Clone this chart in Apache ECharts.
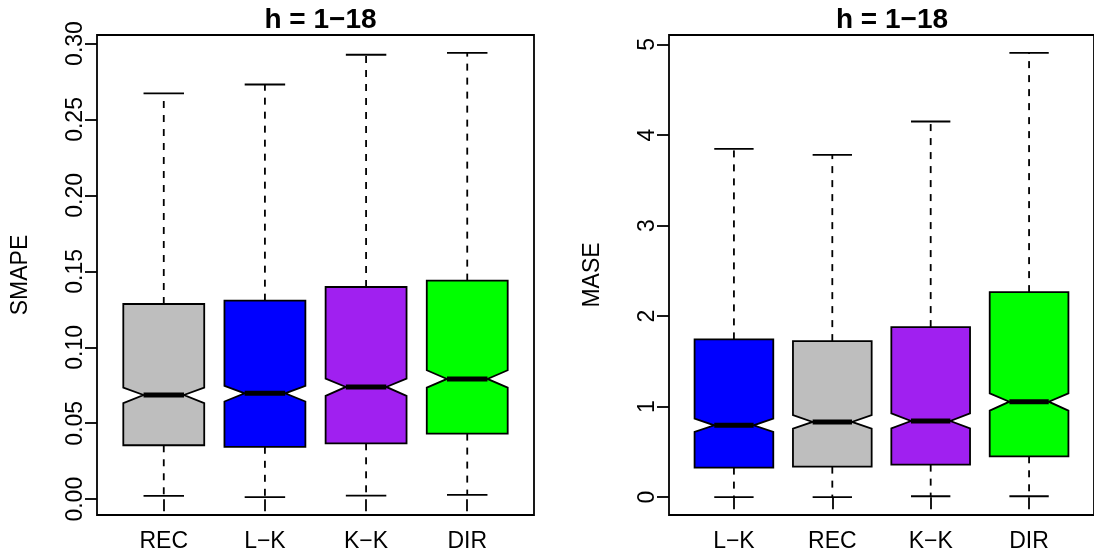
<!DOCTYPE html>
<html>
<head>
<meta charset="utf-8">
<script src="https://cdn.jsdelivr.net/npm/echarts@6/dist/echarts.min.js"></script>
<style>
  html, body { margin: 0; padding: 0; background: #fff; }
  #chart { width: 1094px; height: 558px; }
</style>
</head>
<body>
<div id="chart"></div>
<script>
// 左图 SMAPE
const leftCats = ['REC', 'L\u2212K', 'K\u2212K', 'DIR'];
const leftLower = [0.0022, 0.0013, 0.0024, 0.0029];
const leftQ1 = [0.0355, 0.0345, 0.0368, 0.0432];
const leftNotchLow = [0.0632, 0.0643, 0.0680, 0.0735];
const leftMedian = [0.0686, 0.0697, 0.0739, 0.0792];
const leftNotchHigh = [0.0735, 0.0746, 0.0794, 0.0849];
const leftQ3 = [0.1285, 0.1307, 0.1397, 0.1439];
const leftUpper = [0.2672, 0.2730, 0.2926, 0.2939];
const leftTicks = [0, 0.05, 0.10, 0.15, 0.20, 0.25, 0.30];

// 右图 MASE
const rightCats = ['L\u2212K', 'REC', 'K\u2212K', 'DIR'];
const rightLower = [0.000, 0.000, 0.011, 0.011];
const rightQ1 = [0.327, 0.338, 0.360, 0.452];
const rightNotchLow = [0.721, 0.757, 0.761, 0.956];
const rightMedian = [0.794, 0.831, 0.842, 1.055];
const rightNotchHigh = [0.868, 0.908, 0.926, 1.147];
const rightQ3 = [1.743, 1.724, 1.879, 2.265];
const rightUpper = [3.847, 3.781, 4.149, 4.908];
const rightTicks = [0, 1, 2, 3, 4, 5];

const titleText = 'h = 1\u221218';

// 颜色映射
const colorMap = {
  'REC': '#BEBEBE',
  'L\u2212K': '#0000FF',
  'K\u2212K': '#A020F0',
  'DIR': '#00FF00'
};

const FONT = '"Liberation Sans", Arial, Helvetica, sans-serif';
const xPos = [1, 2, 3, 4];

// R 的 4% 轴扩展
const rRange = (lo, hi) => {
  const a = Math.min(...lo), b = Math.max(...hi);
  const pad = (b - a) * 0.04;
  return [a - pad, b + pad];
};

const buildData = (lo, q1, nl, med, nh, q3, up) =>
  xPos.map((x, i) => [x, lo[i], q1[i], nl[i], med[i], nh[i], q3[i], up[i]]);

// 带缺口的箱线图
const makeRender = (cats) => (params, api) => {
  const x = api.value(0);
  const lo = api.value(1), q1 = api.value(2), nl = api.value(3), med = api.value(4);
  const nh = api.value(5), q3 = api.value(6), up = api.value(7);
  const half = 0.4, notch = 0.2, cap = 0.2;
  const P = (dx, v) => api.coord([x + dx, v]);
  const color = colorMap[cats[params.dataIndex]];
  const dash = { stroke: '#000', lineWidth: 1.8, lineDash: [7, 7] };
  const solid = { stroke: '#000', lineWidth: 1.8 };
  const seg = (a, b, style) => ({
    type: 'line',
    shape: { x1: a[0], y1: a[1], x2: b[0], y2: b[1] },
    style: style
  });
  return {
    type: 'group',
    children: [
      seg(P(0, q3), P(0, up), dash),
      seg(P(0, q1), P(0, lo), dash),
      seg(P(-cap, up), P(cap, up), solid),
      seg(P(-cap, lo), P(cap, lo), solid),
      {
        type: 'polygon',
        shape: {
          points: [
            P(-half, q1), P(half, q1), P(half, nl), P(notch, med), P(half, nh),
            P(half, q3), P(-half, q3), P(-half, nh), P(-notch, med), P(-half, nl)
          ]
        },
        style: { fill: color, stroke: '#000', lineWidth: 1.8 }
      },
      seg(P(-notch, med), P(notch, med), { stroke: '#000', lineWidth: 5 })
    ]
  };
};

const leftRange = rRange(leftLower, leftUpper);
const rightRange = rRange(rightLower, rightUpper);

const xAxisFor = (idx, cats) => ({
  gridIndex: idx,
  type: 'value',
  min: 0.34,
  max: 4.66,
  axisLine: { show: false },
  splitLine: { show: false },
  axisTick: {
    show: true, customValues: xPos, length: 12,
    lineStyle: { color: '#000', width: 1.8 }
  },
  axisLabel: {
    customValues: xPos,
    formatter: v => cats[Math.round(v) - 1],
    color: '#000', fontSize: 23, fontFamily: FONT, margin: 15
  }
});

const yAxisFor = (idx, range, ticks, fmt, name) => ({
  gridIndex: idx,
  type: 'value',
  min: range[0],
  max: range[1],
  name: name,
  nameLocation: 'middle',
  nameRotate: 90,
  nameGap: 65,
  nameTextStyle: { color: '#000', fontSize: 23, fontFamily: FONT },
  axisLine: { show: false },
  splitLine: { show: false },
  axisTick: {
    show: true, customValues: ticks, length: 12,
    lineStyle: { color: '#000', width: 1.8 }
  },
  axisLabel: {
    customValues: ticks,
    formatter: fmt,
    rotate: 90,
    color: '#000', fontSize: 23, fontFamily: FONT, margin: 10
  }
});

const gridStyle = { show: true, borderColor: '#000', borderWidth: 1.8, backgroundColor: 'transparent' };

const option = {
  animation: false,
  backgroundColor: '#fff',
  title: [
    {
      text: titleText, left: 315.5, top: 1, textAlign: 'center',
      textStyle: { color: '#000', fontSize: 28, fontWeight: 'bold', fontFamily: FONT }
    },
    {
      text: titleText, left: 887, top: 1, textAlign: 'center',
      textStyle: { color: '#000', fontSize: 28, fontWeight: 'bold', fontFamily: FONT }
    }
  ],
  grid: [
    Object.assign({ left: 97, top: 35, width: 437, height: 480 }, gridStyle),
    Object.assign({ left: 669, top: 35, width: 436, height: 480 }, gridStyle)
  ],
  xAxis: [xAxisFor(0, leftCats), xAxisFor(1, rightCats)],
  yAxis: [
    yAxisFor(0, leftRange, leftTicks, v => v.toFixed(2), 'SMAPE'),
    yAxisFor(1, rightRange, rightTicks, v => String(Math.round(v)), 'MASE')
  ],
  series: [
    {
      type: 'custom',
      xAxisIndex: 0, yAxisIndex: 0,
      renderItem: makeRender(leftCats),
      encode: { x: 0, y: [1, 7] },
      data: buildData(leftLower, leftQ1, leftNotchLow, leftMedian, leftNotchHigh, leftQ3, leftUpper)
    },
    {
      type: 'custom',
      xAxisIndex: 1, yAxisIndex: 1,
      renderItem: makeRender(rightCats),
      encode: { x: 0, y: [1, 7] },
      data: buildData(rightLower, rightQ1, rightNotchLow, rightMedian, rightNotchHigh, rightQ3, rightUpper)
    }
  ]
};

const myChart = echarts.init(document.getElementById('chart'), null, { renderer: 'canvas' });
myChart.setOption(option);
</script>
</body>
</html>
